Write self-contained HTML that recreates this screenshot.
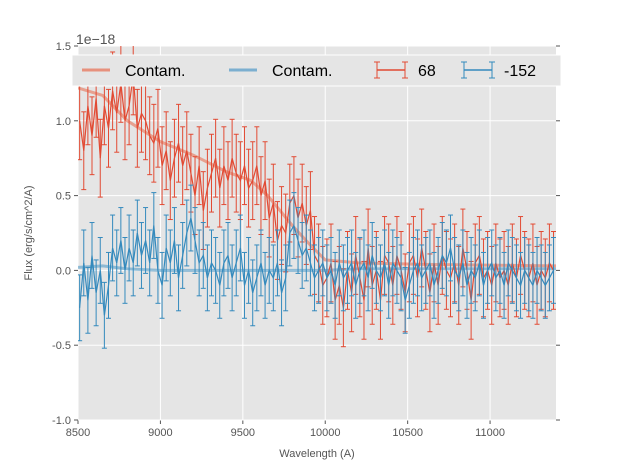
<!DOCTYPE html>
<html><head><meta charset="utf-8"><style>
body{margin:0;background:#fff;}
svg{display:block;font-family:"Liberation Sans",sans-serif;}
</style></head><body>
<svg id="chart" width="617" height="467" xmlns="http://www.w3.org/2000/svg"></svg>
<script>
const redVals=[1.0,0.8,1.1,0.9,1.15,0.75,1.1,0.95,1.2,1.05,1.25,1.0,
1.1,1.3,0.95,1.05,1.0,0.9,0.85,0.95,
0.7,0.8,0.6,0.75,0.85,0.7,0.8,0.65,
0.5,0.7,0.4,0.55,0.65,0.75,0.55,0.7,
0.6,0.75,0.65,0.6,0.7,0.55,0.6,0.7,
0.5,0.6,0.35,0.45,0.2,0.3,0.25,0.45,
0.5,0.35,0.45,0.3,0.4,0.1,0.05,-0.1,
-0.05,0.05,-0.2,-0.1,-0.25,0.0,-0.15,0.1,-0.05,-0.2,
0.15,-0.1,0.0,-0.2,0.1,0.05,-0.1,0.1,0.0,-0.15,
0.05,0.1,-0.05,0.15,0.0,-0.15,0.05,-0.1,0.1,0.0,
-0.05,0.05,-0.1,0.15,0.0,-0.2,0.05,0.1,-0.05,0.0,
-0.1,0.05,-0.05,0.0,-0.1,0.05,-0.05,0.1,0.0,-0.05,
0.05,-0.1,0.0,-0.05,0.05,0.0];
const blueVals=[-0.25,0.05,-0.2,0.1,-0.15,0.0,-0.3,-0.1,0.15,0.05,0.2,0.0,
0.15,0.05,0.25,0.1,0.2,0.05,0.3,0.0,
-0.1,0.15,0.05,0.2,-0.05,0.1,0.25,0.35,
0.2,0.05,0.1,-0.05,0.05,0.0,-0.1,0.05,
0.1,-0.05,0.05,0.15,-0.1,0.0,-0.15,-0.05,
0.05,-0.1,0.0,-0.05,0.05,-0.15,-0.05,0.25,
0.3,0.2,0.1,0.15,0.05,-0.05,0.0,0.05,
-0.05,0.0,-0.1,0.05,-0.05,0.0,0.05,-0.1,0.0,0.05,
-0.05,0.1,0.0,-0.05,0.05,-0.1,0.05,0.0,-0.05,-0.2,
-0.1,0.0,0.05,-0.05,0.0,0.05,-0.1,0.0,0.1,0.05,
0.15,0.0,-0.05,0.05,-0.1,0.0,-0.05,0.05,-0.1,0.0,
0.05,-0.05,0.0,-0.1,0.05,0.0,-0.05,-0.1,0.0,-0.05,
-0.1,0.0,-0.05,-0.1,-0.05,0.0];
const redErr=0.26, blueErr=0.22;
const contamX=[8500,8650,8800,9000,9200,9400,9550,9650,9800,9900,10000,10200,10600,11400];
const contamRed=[1.22,1.17,1.0,0.86,0.77,0.66,0.6,0.5,0.3,0.18,0.07,0.05,0.04,0.03];
const contamBlue=[0.02,0.03,0.01,0.0,0.0,0.0,0.0,0.0,0.0,0.0,0.0,0.01,0.01,0.01];
const xTicks=[8500,9000,9500,10000,10500,11000];
const yTicks=[-1.0,-0.5,0.0,0.5,1.0,1.5];
const dx=25,start=8510;

const L=78,R=556,T=46,B=420;
const xs=v=>L+(v-8500)/(11400-8500)*(R-L);
const ys=v=>B-(v+1.0)/2.5*(B-T);
const svg=document.getElementById('chart');
const NS='http://www.w3.org/2000/svg';
function mk(tag,attrs,parent){const e=document.createElementNS(NS,tag);for(const k in attrs)e.setAttribute(k,attrs[k]);(parent||svg).appendChild(e);return e;}

const bg=mk('rect',{x:L,y:T,width:R-L,height:B-T,fill:'#e5e5e5'});


xTicks.forEach(t=>{const g=mk('line',{x1:xs(t),x2:xs(t),y1:T,y2:B,stroke:'#fff','stroke-width':1});


const tk=mk('line',{x1:xs(t),x2:xs(t),y1:B,y2:B+4,stroke:'#555'});


const tx=mk('text',{x:xs(t),y:B+16,'text-anchor':'middle','font-size':11,fill:'#555'});tx.textContent=t;

});
yTicks.forEach(t=>{const g=mk('line',{x1:L,x2:R,y1:ys(t),y2:ys(t),stroke:'#fff','stroke-width':1});


const tk=mk('line',{x1:L-4,x2:L,y1:ys(t),y2:ys(t),stroke:'#555'});


const tk2=mk('line',{x1:R,x2:R+4,y1:ys(t),y2:ys(t),stroke:'#555'});


const tx=mk('text',{x:L-7,y:ys(t)+4,'text-anchor':'end','font-size':11,fill:'#555'});tx.textContent=t.toFixed(1);

});

const clip=mk('clipPath',{id:'pc'});mk('rect',{x:L,y:T,width:R-L,height:B-T},clip);
const data=mk('g',{'clip-path':'url(#pc)'});


function contam(vals,color,name){let d='';contamX.forEach((x,i)=>{d+=(i?'L':'M')+xs(x).toFixed(1)+','+ys(vals[i]).toFixed(1);});
  const p=mk('path',{d:d,fill:'none',stroke:color,'stroke-width':3,'stroke-opacity':0.7},data);
  
  }
contam(contamRed,'#e8836b','contam-red-line');
contam(contamBlue,'#6aa6cc','contam-blue-line');
function seriesIn(vals,err,color,name){
  const g=mk('g',{},data);
  
  
  let d='';
  vals.forEach((v,i)=>{const x=xs(start+dx*i);
    mk('line',{x1:x,x2:x,y1:ys(v-err),y2:ys(v+err),stroke:color,'stroke-width':1},g);
    mk('line',{x1:x-2.5,x2:x+2.5,y1:ys(v-err),y2:ys(v-err),stroke:color,'stroke-width':1},g);
    mk('line',{x1:x-2.5,x2:x+2.5,y1:ys(v+err),y2:ys(v+err),stroke:color,'stroke-width':1},g);
    d+=(i?'L':'M')+x.toFixed(1)+','+ys(v).toFixed(1);});
  mk('path',{d:d,fill:'none',stroke:color,'stroke-width':1.2},g);
}
seriesIn(redVals,redErr,'#e24a33','series-68');
seriesIn(blueVals,blueErr,'#348abd','series-minus-152');

const lg=mk('g',{});


mk('rect',{x:72,y:55,width:489,height:31,fill:'#e5e5e5',stroke:'#fff'},lg);
mk('line',{x1:82,x2:110,y1:70,y2:70,stroke:'#e8836b','stroke-width':3,'stroke-opacity':0.85},lg);
mk('line',{x1:229,x2:257,y1:70,y2:70,stroke:'#6aa6cc','stroke-width':3,'stroke-opacity':0.85},lg);
[[377,'#e24a33'],[464,'#348abd']].forEach(([x,c])=>{
  mk('line',{x1:x,x2:x+28,y1:70,y2:70,stroke:c,'stroke-width':1.5},lg);
  mk('line',{x1:x,x2:x,y1:62,y2:78,stroke:c},lg);
  mk('line',{x1:x+28,x2:x+28,y1:62,y2:78,stroke:c},lg);
  mk('line',{x1:x-3,x2:x+3,y1:62,y2:62,stroke:c},lg);mk('line',{x1:x-3,x2:x+3,y1:78,y2:78,stroke:c},lg);
  mk('line',{x1:x+25,x2:x+31,y1:62,y2:62,stroke:c},lg);mk('line',{x1:x+25,x2:x+31,y1:78,y2:78,stroke:c},lg);
});
[[125,'Contam.','legend-contam-red'],[272,'Contam.','legend-contam-blue'],[418,'68','legend-68'],[504,'-152','legend-minus-152']].forEach(([x,s,n])=>{
  const t=mk('text',{x:x,y:76,'font-size':16,fill:'#000'},lg);t.textContent=s;
  
  });

const off=mk('text',{x:76,y:44,'font-size':14,fill:'#555'});off.textContent='1e\u221218';


const xl=mk('text',{x:317,y:457,'text-anchor':'middle','font-size':11,fill:'#555'});xl.textContent='Wavelength (A)';


const yl=mk('text',{x:0,y:0,'text-anchor':'middle','font-size':11,fill:'#555',transform:'translate(32,233) rotate(-90)'});yl.textContent='Flux (erg/s/cm^2/A)';


</script>
</body></html>
